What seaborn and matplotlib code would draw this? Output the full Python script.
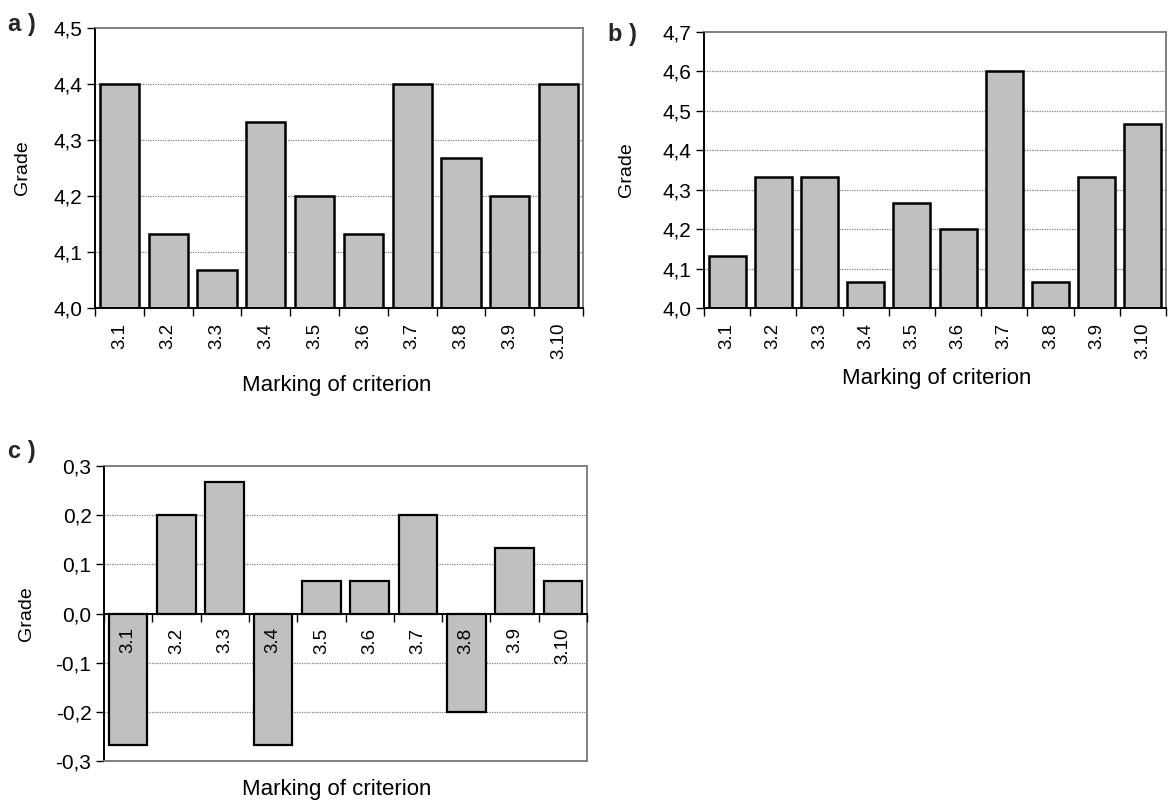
import numpy as np
import matplotlib
matplotlib.use("Agg")
import matplotlib.pyplot as plt
import seaborn as sns
from matplotlib.ticker import FixedLocator, FuncFormatter

# ---- data ----
criteria = ["3.1", "3.2", "3.3", "3.4", "3.5", "3.6", "3.7", "3.8", "3.9", "3.10"]
grades_a = [4.400, 4.133, 4.067, 4.333, 4.200, 4.133, 4.400, 4.267, 4.200, 4.400]
grades_b = [4.133, 4.333, 4.333, 4.067, 4.267, 4.200, 4.600, 4.067, 4.333, 4.467]
grades_c = [-0.267, 0.200, 0.267, -0.267, 0.067, 0.067, 0.200, -0.200, 0.133, 0.067]
yticks_a = [4.0, 4.1, 4.2, 4.3, 4.4, 4.5]
yticks_b = [4.0, 4.1, 4.2, 4.3, 4.4, 4.5, 4.6, 4.7]
yticks_c = [-0.3, -0.2, -0.1, 0.0, 0.1, 0.2, 0.3]
panel_labels = ["a )", "b )", "c )"]
xlabel_text = "Marking of criterion"
ylabel_text = "Grade"

sns.set_theme(style="white")
plt.rcParams["font.family"] = ["Liberation Sans", "DejaVu Sans"]

W, H = 1168, 805
fig = plt.figure(figsize=(W / 100, H / 100), dpi=100)
fig.patch.set_facecolor("white")

GRAY = "#808080"
BAR = "#C0C0C0"


def rect(l, r, t, b):
    return [l / W, 1 - b / H, (r - l) / W, (b - t) / H]


def comma(v, pos=None):
    return f"{v:.1f}".replace(".", ",")


def panel(pos, values, yticks, xlab_xy, ylab_xy, zero_axis=False, lw=1.8):
    ax = fig.add_axes(pos)
    sns.barplot(x=criteria, y=values, color=BAR, saturation=1, edgecolor="black",
                linewidth=lw, width=0.80, ax=ax, zorder=1)
    ax.set_axisbelow(False)
    ax.set_xlim(-0.5, len(criteria) - 0.5)
    ax.set_ylim(yticks[0], yticks[-1])
    for s in ["top", "right"]:
        ax.spines[s].set_color(GRAY)
        ax.spines[s].set_linewidth(1.4)
    for s in ["left", "bottom"]:
        ax.spines[s].set_color("black")
        ax.spines[s].set_linewidth(1.4)
    if zero_axis:
        ax.spines["bottom"].set_position(("data", 0))
        ax.axhline(yticks[0], color=GRAY, lw=1.4, zorder=3, clip_on=False)
    ax.yaxis.set_major_locator(FixedLocator(yticks))
    ax.yaxis.set_major_formatter(FuncFormatter(comma))
    # dotted grid lines
    for yv in yticks[1:-1]:
        if zero_axis and abs(yv) < 1e-9:
            continue
        ax.axhline(yv, color=GRAY, lw=0.9, ls=(0, (1, 1)), zorder=0.5)
    # x ticks: labels at centers, tick marks at category boundaries
    ax.set_xticks(range(len(criteria)))
    ax.set_xticklabels(criteria, rotation=90, fontsize=13.5)
    ax.set_xticks(np.arange(-0.5, len(criteria), 1.0), minor=True)
    ax.tick_params(axis="x", which="major", length=0, pad=10 if zero_axis else 10.5,
                   colors="black", labelsize=13.5, labelrotation=90)
    ax.tick_params(axis="x", which="minor", length=6, width=1.0, direction="out",
                   color="black", bottom=True)
    ax.tick_params(axis="y", which="major", length=6, width=1.0, direction="out",
                   left=True, colors="black", labelsize=15, pad=3)
    ax.set_xlabel(xlabel_text, fontsize=16, color="black")
    ax.xaxis.set_label_coords(*xlab_xy)
    ax.xaxis.label.set_va("center")
    ax.set_ylabel(ylabel_text, fontsize=14, color="black")
    ax.yaxis.set_label_coords(*ylab_xy)
    ax.yaxis.label.set_va("center")
    return ax


ax_a = panel(rect(95, 583, 28, 308), grades_a, yticks_a, (0.496, -0.275), (-0.148, 0.5))
ax_b = panel(rect(704, 1166, 32, 308), grades_b, yticks_b, (0.504, -0.257), (-0.167, 0.5))
ax_c = panel(rect(104, 587, 466, 761), grades_c, yticks_c, (0.482, -0.098), (-0.161, 0.5),
             zero_axis=True, lw=1.6)

fig.text(8 / W, 1 - 24 / H, panel_labels[0], fontsize=17, fontweight="bold", va="center", ha="left")
fig.text(608 / W, 1 - 35 / H, panel_labels[1], fontsize=17, fontweight="bold", va="center", ha="left")
fig.text(8 / W, 1 - 451 / H, panel_labels[2], fontsize=17, fontweight="bold", va="center", ha="left")

fig.savefig("out.png", dpi=100, facecolor="white")
